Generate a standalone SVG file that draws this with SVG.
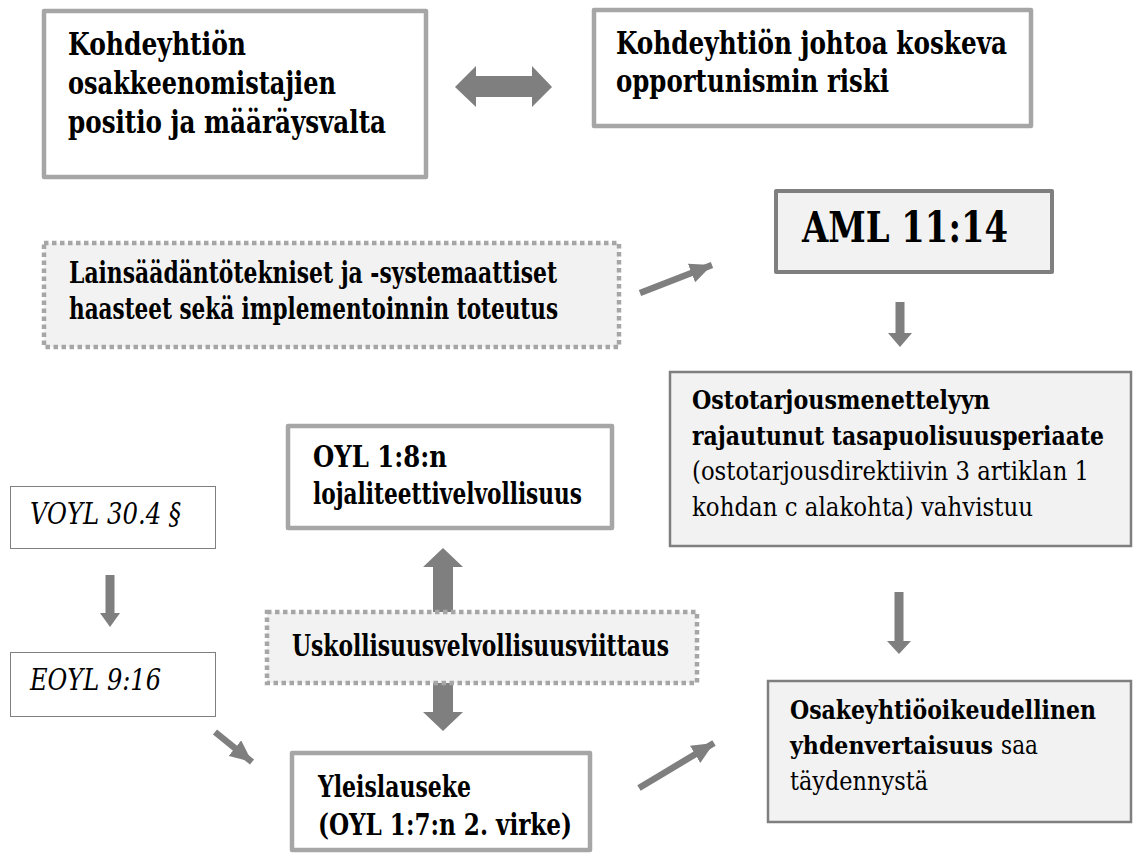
<svg xmlns="http://www.w3.org/2000/svg" width="1133" height="854" viewBox="0 0 1133 854">
<defs>
<style>
text{font-family:'DejaVu Serif Condensed','DejaVu Serif','Liberation Serif',serif;font-stretch:condensed;fill:#000}
.b{font-weight:bold}
.i{font-style:italic}
.f26{font-size:26px}
.f29{font-size:29px}
.f32{font-size:32px}
.light{fill:#fff;stroke:#a6a6a6;stroke-width:4.5;stroke-linejoin:round}
.dash{fill:#f2f2f2;stroke:#a6a6a6;stroke-width:4.5;stroke-dasharray:4.5 3.5}
.grey{fill:#f2f2f2;stroke:#7f7f7f;stroke-width:2.5}
.thin{fill:#fff;stroke:#7f7f7f;stroke-width:1}
.arr{fill:#7f7f7f;stroke:none}
.ln{stroke:#7f7f7f;stroke-width:6.5;fill:none}
</style>
<marker id="ah" markerUnits="userSpaceOnUse" markerWidth="22" markerHeight="20" viewBox="0 0 22 20" refX="22" refY="10" orient="auto">
<path d="M0,0 L22,10 L0,20 z" fill="#7f7f7f"/>
</marker>
</defs>

<g id="connectors">
<polygon class="arr" points="455,87 476,66 476,76 532,76 532,66 552,87 532,107 532,97 476,97 476,107"/>
<line class="ln" x1="640" y1="293" x2="712" y2="265" marker-end="url(#ah)"/>
<polygon class="arr" points="895.5,302 904.5,302 904.5,333 912,333 900,347 888,333 895.5,333"/>
<polygon class="arr" points="894.5,592 903.5,592 903.5,641 911,641 899,654 887,641 894.5,641"/>
<polygon class="arr" points="105.5,575 114.5,575 114.5,613 120,613 110,627 100,613 105.5,613"/>
<polygon class="arr" points="443,548 463,567 453,567 453,612 433,612 433,567 423,567"/>
<polygon class="arr" points="433,683 453,683 453,712 463,712 443,731 423,712 433,712"/>
<line class="ln" x1="215" y1="732" x2="252" y2="762" marker-end="url(#ah)"/>
<line class="ln" x1="639" y1="788" x2="714" y2="743" marker-end="url(#ah)"/>
</g>

<g id="n-osakkeenomistajat">
<rect class="light" x="44" y="11" width="382" height="166"/>
<text class="b f32" x="68" y="55" textLength="178" lengthAdjust="spacingAndGlyphs">Kohdeyhtiön</text>
<text class="b f32" x="68" y="94" textLength="268" lengthAdjust="spacingAndGlyphs">osakkeenomistajien</text>
<text class="b f32" x="68" y="133" textLength="318" lengthAdjust="spacingAndGlyphs">positio ja määräysvalta</text>
</g>

<g id="n-johto">
<rect class="light" x="594" y="10" width="437" height="116"/>
<text class="b f32" x="616" y="54" textLength="391" lengthAdjust="spacingAndGlyphs">Kohdeyhtiön johtoa koskeva</text>
<text class="b f32" x="616" y="92" textLength="273" lengthAdjust="spacingAndGlyphs">opportunismin riski</text>
</g>

<g id="n-lainsaadanto">
<rect class="dash" x="44" y="243" width="575" height="104"/>
<text class="b f29" x="69" y="283" textLength="488" lengthAdjust="spacingAndGlyphs">Lainsäädäntötekniset ja -systemaattiset</text>
<text class="b f29" x="69" y="319" textLength="489" lengthAdjust="spacingAndGlyphs">haasteet sekä implementoinnin toteutus</text>
</g>

<g id="n-aml">
<rect x="776" y="191" width="276" height="81" fill="#f2f2f2" stroke="#7f7f7f" stroke-width="4" stroke-linejoin="round"/>
<text class="b" x="802" y="242" font-size="42" textLength="206" lengthAdjust="spacingAndGlyphs">AML 11:14</text>
</g>

<g id="n-ostotarjous">
<rect class="grey" x="670" y="372" width="461" height="174"/>
<text class="b f26" x="692" y="409" textLength="298" lengthAdjust="spacingAndGlyphs">Ostotarjousmenettelyyn</text>
<text class="b f26" x="692" y="445" textLength="412" lengthAdjust="spacingAndGlyphs">rajautunut tasapuolisuusperiaate</text>
<text class="f26" x="692" y="480" textLength="397" lengthAdjust="spacingAndGlyphs">(ostotarjousdirektiivin 3 artiklan 1</text>
<text class="f26" x="692" y="516" textLength="341" lengthAdjust="spacingAndGlyphs">kohdan c alakohta) vahvistuu</text>
</g>

<g id="n-voyl">
<rect class="thin" x="10.5" y="486.5" width="205" height="62"/>
<text class="i f29" x="30" y="524" textLength="151" lengthAdjust="spacingAndGlyphs">VOYL 30.4 §</text>
</g>

<g id="n-eoyl">
<rect class="thin" x="10.5" y="652.5" width="205" height="64"/>
<text class="i f29" x="30" y="690" textLength="131" lengthAdjust="spacingAndGlyphs">EOYL 9:16</text>
</g>

<g id="n-oyl18">
<rect class="light" x="288" y="426" width="324" height="102"/>
<text class="b f29" x="313" y="467" textLength="134" lengthAdjust="spacingAndGlyphs">OYL 1:8:n</text>
<text class="b f29" x="313" y="504" textLength="269" lengthAdjust="spacingAndGlyphs">lojaliteettivelvollisuus</text>
</g>

<g id="n-uskollisuus">
<rect class="dash" x="267" y="612" width="430" height="71"/>
<text class="b f29" x="292" y="656" textLength="377" lengthAdjust="spacingAndGlyphs">Uskollisuusvelvollisuusviittaus</text>
</g>

<g id="n-yleislauseke">
<rect class="light" x="292" y="753" width="298" height="97"/>
<text class="b f29" x="318" y="797" textLength="153" lengthAdjust="spacingAndGlyphs">Yleislauseke</text>
<text class="b f29" x="318" y="835" textLength="254" lengthAdjust="spacingAndGlyphs">(OYL 1:7:n 2. virke)</text>
</g>

<g id="n-osakeyhtio">
<rect class="grey" x="768" y="681" width="363" height="141"/>
<text class="b f26" x="790" y="719" textLength="306" lengthAdjust="spacingAndGlyphs">Osakeyhtiöoikeudellinen</text>
<text class="b" font-size="24" x="790" y="754" textLength="203" lengthAdjust="spacingAndGlyphs">yhdenvertaisuus</text>
<text class="f26" x="1001" y="754" textLength="37" lengthAdjust="spacingAndGlyphs">saa</text>
<text class="f26" x="790" y="790" textLength="138" lengthAdjust="spacingAndGlyphs">täydennystä</text>
</g>
</svg>
